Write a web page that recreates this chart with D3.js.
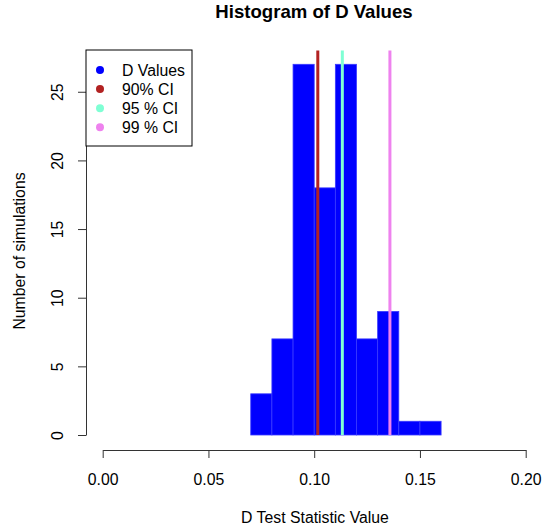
<!DOCTYPE html>
<html>
<head>
<meta charset="utf-8">
<script src="https://cdn.jsdelivr.net/npm/d3@7"></script>
<style>
  body { margin: 0; background: #fff; }
  text { font-family: "Liberation Sans", Arial, sans-serif; fill: #000; }
</style>
</head>
<body>
<div id="chart"></div>
<script>
// histogram bins (width 0.01) and counts
const binStarts = [0.07, 0.08, 0.09, 0.10, 0.11, 0.12, 0.13, 0.14, 0.15];
const counts = [3, 7, 27, 18, 27, 7, 9, 1, 1];
const binWidth = 0.01;

// confidence interval lines
const ciNames = ["90% CI", "95 % CI", "99 % CI"];
const ciValues = [0.1017, 0.1133, 0.1358];
const ciColors = ["#B22222", "#7FFFD4", "#EE82EE"];
const ciTop = 28;

const xTicks = [0, 0.05, 0.10, 0.15, 0.20];
const yTicks = [0, 5, 10, 15, 20, 25];

const W = 544, H = 529;
const fs = 15.8;

const svg = d3.select("#chart").append("svg")
    .attr("width", W)
    .attr("height", H);

const x = d3.scaleLinear().domain([0, 0.2]).range([102.7, 525.7]);
const y = d3.scaleLinear().domain([0, 27]).range([435, 64.3]);

// bars
svg.append("g").selectAll("rect")
    .data(binStarts)
    .join("rect")
    .attr("x", d => x(d))
    .attr("y", (d, i) => y(counts[i]))
    .attr("width", d => x(d + binWidth) - x(d))
    .attr("height", (d, i) => y(0) - y(counts[i]))
    .attr("fill", "blue")
    .attr("stroke", "#3a3aff")
    .attr("stroke-width", 0.8);

// CI lines
svg.append("g").selectAll("line")
    .data(ciValues)
    .join("line")
    .attr("x1", d => x(d))
    .attr("x2", d => x(d))
    .attr("y1", y(0))
    .attr("y2", y(ciTop))
    .attr("stroke", (d, i) => ciColors[i])
    .attr("stroke-width", 3);

// x axis
const xAxis = d3.axisBottom(x)
    .tickValues(xTicks)
    .tickFormat(d3.format(".2f"))
    .tickSize(8)
    .tickPadding(16)
    .tickSizeOuter(0);
const gx = svg.append("g")
    .attr("transform", "translate(0,450)")
    .call(xAxis);
gx.select(".domain").attr("stroke", "#333");
gx.selectAll(".tick line").attr("stroke", "#333");
gx.selectAll(".tick text")
    .attr("font-size", fs)
    .attr("font-family", "Liberation Sans, Arial, sans-serif")
    .attr("fill", "#000");

// y axis
const yAxis = d3.axisLeft(y)
    .tickValues(yTicks)
    .tickSize(8)
    .tickSizeOuter(0);
const gy = svg.append("g")
    .attr("transform", "translate(86,0)")
    .call(yAxis);
gy.select(".domain").attr("stroke", "#333");
gy.selectAll(".tick line").attr("stroke", "#333");
gy.selectAll(".tick text")
    .attr("x", 0)
    .attr("y", 0)
    .attr("dy", 0)
    .attr("transform", "translate(-22.7,0) rotate(-90)")
    .attr("text-anchor", "middle")
    .attr("font-size", fs)
    .attr("font-family", "Liberation Sans, Arial, sans-serif")
    .attr("fill", "#000");

// title and axis labels
svg.append("text")
    .attr("x", 314)
    .attr("y", 18)
    .attr("text-anchor", "middle")
    .attr("font-size", 18.6)
    .attr("font-weight", "bold")
    .text("Histogram of D Values");

svg.append("text")
    .attr("x", 315)
    .attr("y", 522.5)
    .attr("text-anchor", "middle")
    .attr("font-size", fs)
    .text("D Test Statistic Value");

svg.append("text")
    .attr("transform", "translate(25,251) rotate(-90)")
    .attr("text-anchor", "middle")
    .attr("font-size", fs)
    .text("Number of simulations");

// legend
const legendNames = ["D Values"].concat(ciNames);
const legendColors = ["blue"].concat(ciColors);

const legend = svg.append("g");
legend.append("rect")
    .attr("x", 86)
    .attr("y", 50)
    .attr("width", 106)
    .attr("height", 96)
    .attr("fill", "#fff")
    .attr("stroke", "#000")
    .attr("stroke-width", 1);

legend.selectAll("circle")
    .data(legendNames)
    .join("circle")
    .attr("cx", 100)
    .attr("cy", (d, i) => 70 + i * 19.1)
    .attr("r", 4)
    .attr("fill", (d, i) => legendColors[i]);

legend.selectAll("text")
    .data(legendNames)
    .join("text")
    .attr("x", 122)
    .attr("y", (d, i) => 70 + i * 19.1)
    .attr("dy", "0.36em")
    .attr("font-size", fs)
    .text(d => d);
</script>
</body>
</html>
